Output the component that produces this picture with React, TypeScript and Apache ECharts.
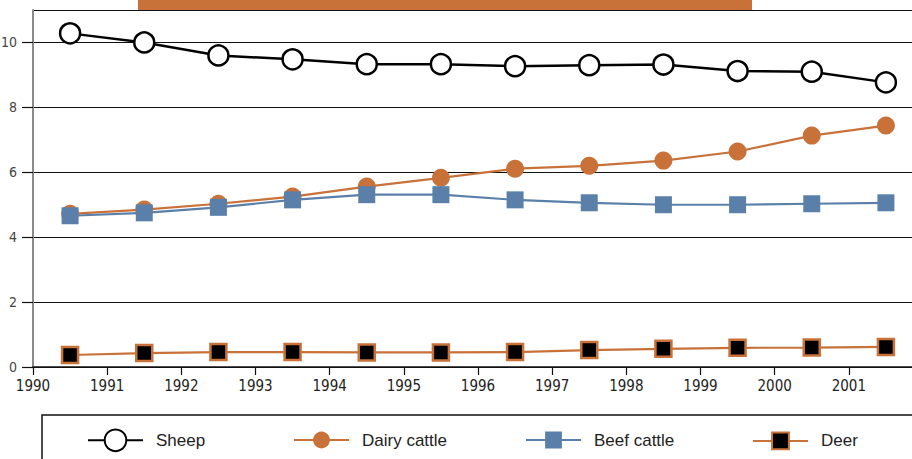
import React, { useEffect, useRef } from "react";
import * as echarts from "echarts";

const years = [1990, 1991, 1992, 1993, 1994, 1995, 1996, 1997, 1998, 1999, 2000, 2001];
const sheep = [10.28, 10.0, 9.6, 9.48, 9.33, 9.33, 9.27, 9.3, 9.32, 9.12, 9.1, 8.77];
const dairyCattle = [4.72, 4.85, 5.03, 5.25, 5.56, 5.83, 6.11, 6.2, 6.36, 6.64, 7.13, 7.44];
const beefCattle = [4.66, 4.75, 4.92, 5.15, 5.31, 5.31, 5.15, 5.06, 5.0, 5.0, 5.03, 5.06];
const deer = [0.37, 0.43, 0.46, 0.46, 0.45, 0.45, 0.46, 0.52, 0.56, 0.59, 0.6, 0.62];

const ORANGE = "#c8723a";
const BLUE = "#5a80aa";
const AXIS_FONT = "'Liberation Sans Narrow', 'DejaVu Sans Condensed', 'Roboto Condensed', sans-serif";
const LEGEND_FONT = "'Liberation Sans', Arial, sans-serif";

const pts = (vals: number[]) => years.map((y, i) => [y + 0.5, vals[i]]);

export default function App() {
  const ref = useRef<HTMLDivElement>(null);
  useEffect(() => {
    if (!ref.current) return;
    const chart = echarts.init(ref.current, undefined, { renderer: "svg" });
    const legendText = { fontFamily: LEGEND_FONT, fontSize: 17, color: "#222", padding: [0, 0, 0, 8] };
    const mkLegend = (name: string, left: number, h: number) => ({
      data: [name],
      left,
      top: 442 - h / 2,
      padding: 0,
      itemWidth: 55,
      itemHeight: h,
      textStyle: legendText,
      selectedMode: false,
    });
    chart.setOption({
      animation: false,
      backgroundColor: "#ffffff",
      grid: { left: 33, top: 10, height: 357, width: 890, containLabel: false, outerBoundsMode: "none" },
      xAxis: {
        type: "value",
        min: 1990,
        max: 2002,
        interval: 1,
        axisLine: { lineStyle: { color: "#111", width: 1.5 } },
        axisTick: { show: true, length: 8, lineStyle: { color: "#111", width: 1.2 } },
        splitLine: { show: false },
        axisLabel: {
          fontFamily: AXIS_FONT,
          fontSize: 15,
          color: "#222",
          margin: 11,
          showMaxLabel: false,
          formatter: (v: number) => String(v),
        },
      },
      yAxis: {
        type: "value",
        min: 0,
        max: 11,
        interval: 2,
        axisLine: { show: true, lineStyle: { color: "#8a8a8a", width: 2 } },
        axisTick: { show: true, length: 11, lineStyle: { color: "#111", width: 1.2 } },
        splitLine: { show: true, lineStyle: { color: "#111", width: 1.2 } },
        axisLabel: {
          fontFamily: AXIS_FONT,
          fontSize: 14,
          color: "#444",
          margin: 16,
          showMaxLabel: false,
        },
      },
      legend: [
        mkLegend("Sheep", 87, 27),
        mkLegend("Dairy cattle", 293, 21),
        mkLegend("Beef cattle", 525, 21),
        mkLegend("Deer", 752, 21),
      ],
      series: [
        {
          name: "Dairy cattle",
          type: "line",
          data: pts(dairyCattle),
          symbol: "circle",
          symbolSize: 18,
          lineStyle: { color: ORANGE, width: 2.2 },
          itemStyle: { color: ORANGE },
        },
        {
          name: "Beef cattle",
          type: "line",
          data: pts(beefCattle),
          symbol: "rect",
          symbolSize: 17,
          lineStyle: { color: BLUE, width: 2.2 },
          itemStyle: { color: BLUE },
        },
        {
          name: "Deer",
          type: "line",
          data: pts(deer),
          symbol: "rect",
          symbolSize: 16,
          lineStyle: { color: ORANGE, width: 2.2 },
          itemStyle: { color: "#000", borderColor: ORANGE, borderWidth: 2.5 },
        },
        {
          name: "Sheep",
          type: "line",
          data: pts(sheep),
          symbol: "circle",
          symbolSize: 20,
          lineStyle: { color: "#000", width: 2.5 },
          itemStyle: { color: "#fff", borderColor: "#000", borderWidth: 2.5 },
        },
      ],
      graphic: [
        { type: "rect", left: 138, top: 0, shape: { width: 614, height: 10 }, style: { fill: ORANGE } },
        {
          type: "rect",
          x: 42,
          y: 415,
          shape: { x: 0, y: 0, width: 900, height: 100 },
          style: { fill: "none", stroke: "#111", lineWidth: 1.5 },
        },
      ],
    });
    return () => chart.dispose();
  }, []);
  return <div ref={ref} style={{ position: "fixed", left: 0, top: 0, width: 912, height: 459 }} />;
}
